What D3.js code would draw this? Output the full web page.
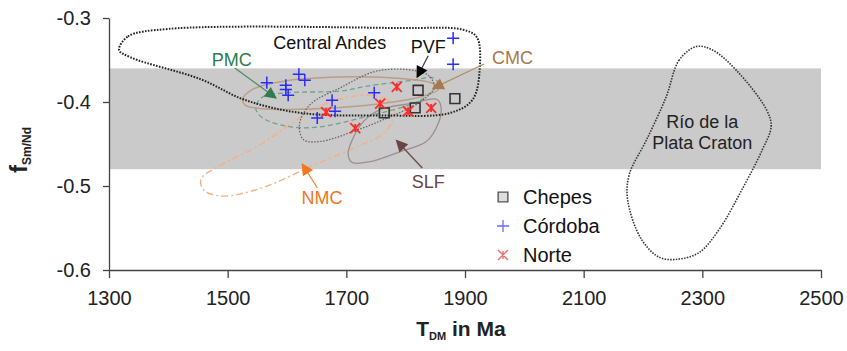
<!DOCTYPE html>
<html>
<head>
<meta charset="utf-8">
<script src="https://cdn.jsdelivr.net/npm/d3@7"></script>
<style>
  body { margin: 0; background: #fff; }
  text { font-family: "Liberation Sans", Arial, sans-serif; }
</style>
</head>
<body>
<script>
// sample values, T_DM (Ma) vs f Sm/Nd
var chepes = [[1821, -0.386], [1883, -0.396], [1816, -0.407], [1764, -0.413]];
var cordoba = [[1566, -0.377], [1598, -0.380], [1598, -0.385], [1620, -0.367], [1630, -0.374],
  [1602, -0.392], [1676, -0.398], [1681, -0.411], [1651, -0.419], [1747, -0.389],
  [1880, -0.355], [1880, -0.324]];
var norte = [[1785, -0.382], [1757, -0.402], [1666, -0.412], [1804, -0.411], [1843, -0.407], [1715, -0.431]];

// fields
var centralAndes = [[1317, -0.338], [1332, -0.322], [1400, -0.313], [1790, -0.312], [1897, -0.314],
  [1920, -0.323], [1925, -0.358], [1913, -0.397], [1875, -0.413], [1762, -0.416], [1623, -0.413],
  [1527, -0.397], [1455, -0.373], [1337, -0.347]];
var craton = [[2290, -0.334], [2261, -0.350], [2239, -0.394], [2206, -0.445], [2177, -0.486],
  [2174, -0.516], [2197, -0.563], [2228, -0.585], [2261, -0.587], [2295, -0.579], [2329, -0.551],
  [2367, -0.504], [2401, -0.457], [2416, -0.429], [2408, -0.409], [2357, -0.362], [2317, -0.338]];
var pvf = [[1752, -0.363], [1819, -0.363], [1841, -0.370], [1848, -0.383], [1824, -0.400],
  [1769, -0.419], [1712, -0.435], [1656, -0.447], [1628, -0.445], [1621, -0.427], [1639, -0.403],
  [1690, -0.383]];
var cmc = [[1525, -0.397], [1542, -0.385], [1597, -0.375], [1707, -0.370], [1791, -0.372],
  [1846, -0.378], [1855, -0.385], [1824, -0.394], [1757, -0.402], [1651, -0.408], [1559, -0.408],
  [1530, -0.404]];
var pmc = [[1547, -0.407], [1559, -0.394], [1600, -0.389], [1690, -0.387], [1735, -0.381],
  [1813, -0.374], [1845, -0.371], [1855, -0.378], [1841, -0.389], [1819, -0.400], [1735, -0.417],
  [1651, -0.430], [1601, -0.429], [1559, -0.419]];
var slf = [[1703, -0.462], [1710, -0.445], [1729, -0.423], [1757, -0.409], [1808, -0.402],
  [1853, -0.397], [1860, -0.409], [1850, -0.433], [1833, -0.448], [1791, -0.459], [1740, -0.471],
  [1710, -0.472]];
var nmc = [[1735, -0.392], [1766, -0.396], [1781, -0.407], [1777, -0.423], [1762, -0.438],
  [1715, -0.454], [1639, -0.477], [1559, -0.502], [1492, -0.512], [1460, -0.505], [1455, -0.492],
  [1483, -0.477], [1550, -0.453], [1601, -0.429], [1648, -0.407], [1698, -0.395]];

// label text, label position, leader start, leader end
var callouts = [
  {name: "PMC", color: "#2f7d4e", line: "#4f8a68", at: [1507, -0.350], from: [1512, -0.3595], to: [1575, -0.392]},
  {name: "PVF", color: "#111", line: "#444", at: [1838, -0.3345], from: [1838, -0.345], to: [1823, -0.3655]},
  {name: "CMC", color: "#a57a50", line: "#b48e6a", at: [1980, -0.3476], from: [1932, -0.3548], to: [1853, -0.3815]},
  {name: "SLF", color: "#6b4545", line: "#6b4a4a", at: [1838, -0.4952], from: [1828, -0.4786], to: [1790, -0.450]},
  {name: "NMC", color: "#f07820", line: "#f08a40", at: [1659, -0.514], from: [1651, -0.5024], to: [1630, -0.4786]}
];

var xTicks = [1300, 1500, 1700, 1900, 2100, 2300, 2500];
var yTicks = [-0.3, -0.4, -0.5, -0.6];
var band = [-0.36, -0.48];

var width = 847, height = 351;
var svg = d3.select("body").append("svg")
  .attr("width", width)
  .attr("height", height);

var x = d3.scaleLinear().domain([1300, 2500]).range([109, 821]);
var y = d3.scaleLinear().domain([-0.6, -0.3]).range([270, 18]);

// grey band
svg.append("rect")
  .attr("x", x(1300)).attr("width", x(2500) - x(1300))
  .attr("y", y(band[0])).attr("height", y(band[1]) - y(band[0]))
  .style("fill", "#cacaca");

var envelope = d3.line()
  .x(function(d){ return x(d[0]); })
  .y(function(d){ return y(d[1]); })
  .curve(d3.curveCatmullRomClosed.alpha(0.5));

var fields = [
  {pts: nmc, stroke: "#f3b183", w: 1.4, dash: "7,3,2,3"},
  {pts: slf, stroke: "#9d8f8f", w: 1.3, dash: null},
  {pts: pmc, stroke: "#74a08a", w: 1.3, dash: "5,3"},
  {pts: cmc, stroke: "#bb9e86", w: 1.5, dash: null},
  {pts: pvf, stroke: "#666", w: 1.3, dash: "1.5,1.5"},
  {pts: centralAndes, stroke: "#222", w: 2, dash: "1.6,1.4"},
  {pts: craton, stroke: "#333", w: 1.6, dash: "1.5,1.3"}
];

svg.selectAll(".field").data(fields).enter().append("path")
  .attr("class", "field")
  .attr("d", function(d){ return envelope(d.pts); })
  .style("fill", "none")
  .style("stroke", function(d){ return d.stroke; })
  .style("stroke-width", function(d){ return d.w; })
  .style("stroke-dasharray", function(d){ return d.dash; });

// leader lines + arrow heads
callouts.forEach(function(c){
  var x1 = x(c.from[0]), y1 = y(c.from[1]), x2 = x(c.to[0]), y2 = y(c.to[1]);
  svg.append("line")
    .attr("x1", x1).attr("y1", y1).attr("x2", x2).attr("y2", y2)
    .style("stroke", c.line).style("stroke-width", 1.3);
  var ang = Math.atan2(y2 - y1, x2 - x1) * 180 / Math.PI;
  svg.append("path")
    .attr("d", "M6,0L-6,-6L-6,6Z")
    .attr("transform", "translate(" + x2 + "," + y2 + ") rotate(" + ang + ")")
    .style("fill", c.color === "#111" ? "#000" : c.color);
  svg.append("text")
    .attr("x", x(c.at[0])).attr("y", y(c.at[1]))
    .attr("text-anchor", "middle").attr("dy", "0.35em")
    .style("font-size", "18px").style("fill", c.color)
    .text(c.name);
});

svg.append("text")
  .attr("x", x(1672)).attr("y", y(-0.3298)).attr("dy", "0.35em")
  .attr("text-anchor", "middle")
  .style("font-size", "18px").style("fill", "#111")
  .text("Central Andes");

svg.append("text")
  .attr("text-anchor", "middle")
  .style("font-size", "18px").style("fill", "#222")
  .selectAll("tspan").data(["Río de la", "Plata Craton"]).enter().append("tspan")
  .attr("x", x(2300))
  .attr("y", function(d, i){ return y(-0.4238 - i * 0.025); })
  .attr("dy", "0.35em")
  .text(function(d){ return d; });

// points
var sq = d3.symbol().type(d3.symbolSquare).size(95);
var plus = d3.symbol().type(d3.symbolPlus).size(50);
// excel-style star: an x with a short vertical stroke
var starPath = function(){ return "M-5,-5L5,5M-5,5L5,-5M0,-4L0,4"; };

svg.selectAll(".chepes").data(chepes).enter().append("path")
  .attr("class", "chepes")
  .attr("d", sq)
  .attr("transform", function(d){ return "translate(" + x(d[0]) + "," + y(d[1]) + ")"; })
  .style("fill", "none").style("stroke", "#333").style("stroke-width", 1.6);

svg.selectAll(".cordoba").data(cordoba).enter().append("path")
  .attr("class", "cordoba")
  .attr("d", plus)
  .attr("transform", function(d){ return "translate(" + x(d[0]) + "," + y(d[1]) + ")"; })
  .style("fill", "none").style("stroke", "#2b2bff").style("stroke-width", 1.5);

svg.selectAll(".norte").data(norte).enter().append("path")
  .attr("class", "norte")
  .attr("d", starPath)
  .attr("transform", function(d){ return "translate(" + x(d[0]) + "," + y(d[1]) + ")"; })
  .style("fill", "none").style("stroke", "#ff2a2a").style("stroke-width", 1.8);

// axes
var xAxis = svg.append("g")
  .attr("transform", "translate(0," + y(-0.6) + ")")
  .call(d3.axisBottom(x).tickValues(xTicks).tickSize(8).tickSizeOuter(0).tickPadding(13).tickFormat(d3.format("d")));
var yAxis = svg.append("g")
  .attr("transform", "translate(" + x(1300) + ",0)")
  .call(d3.axisLeft(y).tickValues(yTicks).tickSize(6).tickSizeOuter(0).tickPadding(12)
    .tickFormat(function(d){ return d.toFixed(1); }));

[xAxis, yAxis].forEach(function(g){
  g.selectAll("path, line").style("stroke", "#444").style("stroke-width", 1.3);
  g.selectAll("text").style("font-size", "20px").style("fill", "#222")
    .style("font-family", "'Liberation Sans', Arial, sans-serif");
});

// axis titles
var xt = svg.append("text")
  .attr("x", 461).attr("y", 336)
  .attr("text-anchor", "middle")
  .style("font-size", "21px").style("font-weight", "bold").style("fill", "#222");
xt.append("tspan").text("T");
xt.append("tspan").attr("dy", 4).style("font-size", "11px").text("DM");
xt.append("tspan").attr("dy", -4).text(" in Ma");

var yt = svg.append("text")
  .attr("transform", "translate(27,150) rotate(-90)")
  .attr("text-anchor", "middle")
  .style("font-weight", "bold").style("fill", "#222");
yt.append("tspan").style("font-size", "24px").text("f");
yt.append("tspan").attr("dy", 4).style("font-size", "12px").text("Sm/Nd");

// legend
var legend = [
  {name: "Chepes", sym: sq, stroke: "#555", fill: "#ddd", w: 1.4},
  {name: "Córdoba", sym: plus, stroke: "#6a6aff", fill: "none", w: 1.3},
  {name: "Norte", sym: starPath, stroke: "#f07070", fill: "none", w: 1.4}
];
var lg = svg.selectAll(".lg").data(legend).enter().append("g")
  .attr("class", "lg")
  .attr("transform", function(d, i){ return "translate(503," + (197 + i * 29) + ")"; });
lg.append("path")
  .attr("d", function(d){ return d.sym(); })
  .style("fill", function(d){ return d.fill; })
  .style("stroke", function(d){ return d.stroke; })
  .style("stroke-width", function(d){ return d.w; });
lg.append("text")
  .attr("x", 20).attr("dy", "0.35em")
  .style("font-size", "20px").style("fill", "#111")
  .text(function(d){ return d.name; });
</script>
</body>
</html>
